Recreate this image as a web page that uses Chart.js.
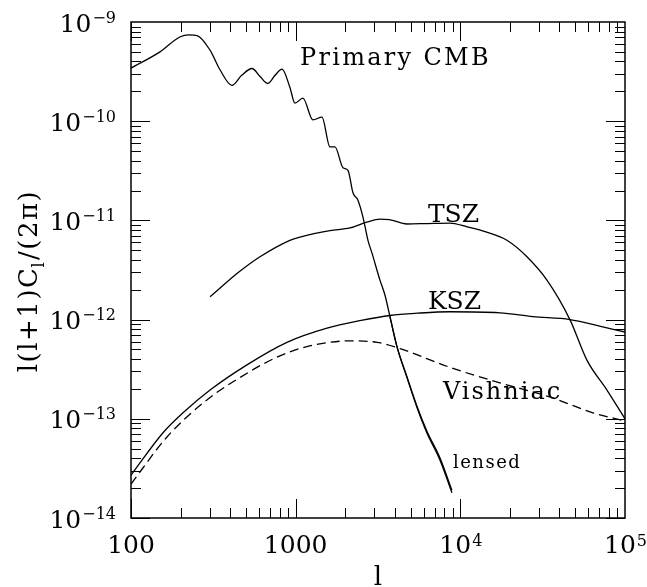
<!DOCTYPE html>
<html>
<head>
<meta charset="utf-8">
<script src="https://cdn.jsdelivr.net/npm/chart.js@4.4.1/dist/chart.umd.min.js"></script>
<style>
    body { margin: 0; background: #fff; }
    .chart-box { width: 647px; height: 587px; position: relative; }
</style>
</head>
<body>
<div class="chart-box"><canvas id="clChart"></canvas></div>
<script>
// multipole l and l(l+1)C_l/(2pi)
const cmbL = [100, 150, 198, 225, 252, 302, 347, 410, 470, 543, 610, 676, 750, 826, 922, 990, 1107, 1273, 1445, 1616, 1732, 1938, 2078, 2228, 2389, 2563, 2748, 2905, 3250, 3484, 3738, 4124, 4742, 5454, 6268, 7516, 8892];
const cmbVal = [3.43e-10, 5.0e-10, 7.06e-10, 7.4e-10, 7.3e-10, 5.2e-10, 3.3e-10, 2.3e-10, 2.9e-10, 3.4e-10, 2.8e-10, 2.4e-10, 2.9e-10, 3.35e-10, 2.2e-10, 1.52e-10, 1.71e-10, 1.03e-10, 1.1e-10, 5.5e-11, 5.5e-11, 3.4e-11, 3.2e-11, 1.9e-11, 1.6e-11, 1.08e-11, 6.3e-12, 4.7e-12, 2.5e-12, 1.77e-12, 1.07e-12, 5.3e-13, 2.6e-13, 1.3e-13, 7.2e-14, 3.85e-14, 1.8e-14];

const lensL = [3738, 4124, 4742, 5454, 6268, 7516, 8892];
const lensVal = [1.07e-12, 5.35e-13, 2.65e-13, 1.34e-13, 7.5e-14, 4.05e-14, 1.9e-14];

const tszL = [302, 450, 607, 922, 1062, 1614, 2137, 2700, 3250, 3700, 4740, 6300, 8650, 11000, 14450, 19170, 25380, 33570, 46300, 58700, 77700, 100000];
const tszVal = [1.7e-12, 3.0e-12, 4.3e-12, 6.3e-12, 6.8e-12, 7.9e-12, 8.4e-12, 9.6e-12, 1.03e-11, 1.02e-11, 9.2e-12, 9.3e-12, 9.4e-12, 8.6e-12, 7.6e-12, 6.3e-12, 4.3e-12, 2.5e-12, 1.0e-12, 3.9e-13, 1.95e-13, 1.0e-13];

const kszL = [100, 156, 207, 302, 506, 885, 1550, 2500, 3740, 5500, 8650, 17400, 27600, 46300, 70000, 100000];
const kszVal = [2.7e-14, 7.2e-14, 1.15e-13, 1.95e-13, 3.5e-13, 5.9e-13, 8.2e-13, 9.8e-13, 1.1e-12, 1.16e-12, 1.2e-12, 1.17e-12, 1.07e-12, 1.0e-12, 8.6e-13, 7.5e-13];

const vishL = [100, 166, 289, 528, 750, 1018, 1400, 2100, 3120, 4300, 8650, 17400, 35000, 63800, 100000];
const vishVal = [2.2e-14, 6.6e-14, 1.55e-13, 3.0e-13, 4.1e-13, 5.0e-13, 5.7e-13, 6.1e-13, 5.9e-13, 5.1e-13, 3.3e-13, 2.3e-13, 1.66e-13, 1.15e-13, 9.5e-14];

const xTicks = [100, 1000, 10000, 100000];
const yTicks = [1e-14, 1e-13, 1e-12, 1e-11, 1e-10, 1e-9];

// curve labels, anchored in data units: [text, l, value, size, spacing]
const curveLabels = [
    ['Primary CMB', 1062, 3.68e-10, 24, 2.3],
    ['TSZ', 6355, 9.64e-12, 25, 0],
    ['KSZ', 6355, 1.28e-12, 25, 0],
    ['Vishniac', 7840, 1.58e-13, 24, 2],
    ['lensed', 9020, 3.19e-14, 18, 1.5]
];

const serif = 'DejaVu Serif';

const toPoints = (xs, ys) => xs.map((x, i) => ({ x: x, y: ys[i] }));

const lineStyle = {
    borderColor: '#000',
    borderWidth: 1.3,
    pointRadius: 0,
    cubicInterpolationMode: 'monotone',
    fill: false
};

function textW(ctx, txt, font, spacing) {
    ctx.font = font;
    ctx.letterSpacing = spacing + 'px';
    return ctx.measureText(txt).width;
}

// "10" with an exponent, right/center aligned at x
function drawPow(ctx, exp, x, y, align, supRise) {
    const base = '25px ' + serif, sup = '16px ' + serif;
    const wb = textW(ctx, '10', base, 0);
    const we = textW(ctx, exp, sup, 0);
    let left = x - wb - we;
    if (align === 'center') left = x - (wb + we) / 2;
    ctx.textAlign = 'left';
    ctx.font = base;
    ctx.fillText('10', left, y);
    ctx.font = sup;
    ctx.fillText(exp, left + wb + 1, y - supRise);
}

const framePlugin = {
    id: 'frame',
    afterDraw(chart) {
        const ctx = chart.ctx;
        const a = chart.chartArea;
        const xs = chart.scales.x, ys = chart.scales.y;
        ctx.save();
        ctx.strokeStyle = '#000';
        ctx.fillStyle = '#000';
        ctx.lineWidth = 1.5;
        ctx.strokeRect(a.left, a.top, a.right - a.left, a.bottom - a.top);

        // inward ticks on all four sides
        ctx.lineWidth = 1;
        ctx.beginPath();
        for (let k = 2; k < 5; k++) {
            for (let m = 1; m < 10; m++) {
                const px = Math.round(xs.getPixelForValue(m * Math.pow(10, k))) + 0.5;
                const len = m === 1 ? 19 : 10;
                ctx.moveTo(px, a.bottom); ctx.lineTo(px, a.bottom - len);
                ctx.moveTo(px, a.top); ctx.lineTo(px, a.top + len);
            }
        }
        for (let k = -14; k < -9; k++) {
            for (let m = 1; m < 10; m++) {
                const py = Math.round(ys.getPixelForValue(m * Math.pow(10, k))) + 0.5;
                const len = m === 1 ? 19 : 10;
                ctx.moveTo(a.left, py); ctx.lineTo(a.left + len, py);
                ctx.moveTo(a.right, py); ctx.lineTo(a.right - len, py);
            }
        }
        ctx.stroke();

        // tick labels
        ctx.textBaseline = 'alphabetic';
        xTicks.forEach(v => {
            const px = xs.getPixelForValue(v);
            const e = Math.round(Math.log10(v));
            if (e < 4) {
                ctx.font = '25px ' + serif;
                ctx.letterSpacing = '0px';
                ctx.textAlign = 'center';
                ctx.fillText(String(v), px, 553);
            } else {
                drawPow(ctx, String(e), px, 553, 'center', 7);
            }
        });
        yTicks.forEach(v => {
            const py = ys.getPixelForValue(v);
            const e = Math.round(Math.log10(v));
            drawPow(ctx, '\u2212' + Math.abs(e), 115, py + 9.5, 'right', 9);
        });

        // axis titles
        ctx.textAlign = 'left';
        const main = '26px ' + serif, sub = '16px ' + serif;
        const sp = 1.5;
        const w1 = textW(ctx, 'l(l+1)C', main, sp);
        const w2 = textW(ctx, 'l', sub, sp);
        const w3 = textW(ctx, '/(2\u03c0)', main, sp);
        ctx.save();
        ctx.translate(37, 281);
        ctx.rotate(-Math.PI / 2);
        let cx = -(w1 + w2 + w3) / 2;
        ctx.font = main; ctx.letterSpacing = sp + 'px';
        ctx.fillText('l(l+1)C', cx, 0);
        cx += w1;
        ctx.font = sub;
        ctx.fillText('l', cx - 1, 7);
        cx += w2;
        ctx.font = main;
        ctx.fillText('/(2\u03c0)', cx, 0);
        ctx.restore();

        ctx.font = main; ctx.letterSpacing = '0px';
        ctx.textAlign = 'center';
        ctx.fillText('l', (a.left + a.right) / 2, 585);

        // curve labels
        ctx.textAlign = 'left';
        curveLabels.forEach(([txt, l, v, size, spacing]) => {
            ctx.font = size + 'px ' + serif;
            ctx.letterSpacing = spacing + 'px';
            ctx.fillText(txt, xs.getPixelForValue(l), ys.getPixelForValue(v));
        });
        ctx.restore();
    }
};

const ctx = document.getElementById('clChart').getContext('2d');

new Chart(ctx, {
    type: 'line',
    data: {
        datasets: [
            { label: 'Primary CMB', data: toPoints(cmbL, cmbVal), ...lineStyle },
            { label: 'lensed', data: toPoints(lensL, lensVal), ...lineStyle },
            { label: 'TSZ', data: toPoints(tszL, tszVal), ...lineStyle },
            { label: 'KSZ', data: toPoints(kszL, kszVal), ...lineStyle },
            { label: 'Vishniac', data: toPoints(vishL, vishVal), ...lineStyle, borderDash: [9, 5] }
        ]
    },
    options: {
        responsive: true,
        maintainAspectRatio: false,
        animation: false,
        layout: { padding: { top: 22, right: 22, left: 0, bottom: 0 } },
        scales: {
            x: {
                type: 'logarithmic',
                min: 100,
                max: 100000,
                grid: { display: false },
                border: { display: false },
                ticks: { display: false },
                afterFit: (scale) => { scale.height = 69; }
            },
            y: {
                type: 'logarithmic',
                min: 1e-14,
                max: 1e-9,
                grid: { display: false },
                border: { display: false },
                ticks: { display: false },
                afterFit: (scale) => { scale.width = 131; }
            }
        },
        plugins: {
            legend: { display: false },
            tooltip: { enabled: false }
        }
    },
    plugins: [framePlugin]
});
</script>
</body>
</html>
